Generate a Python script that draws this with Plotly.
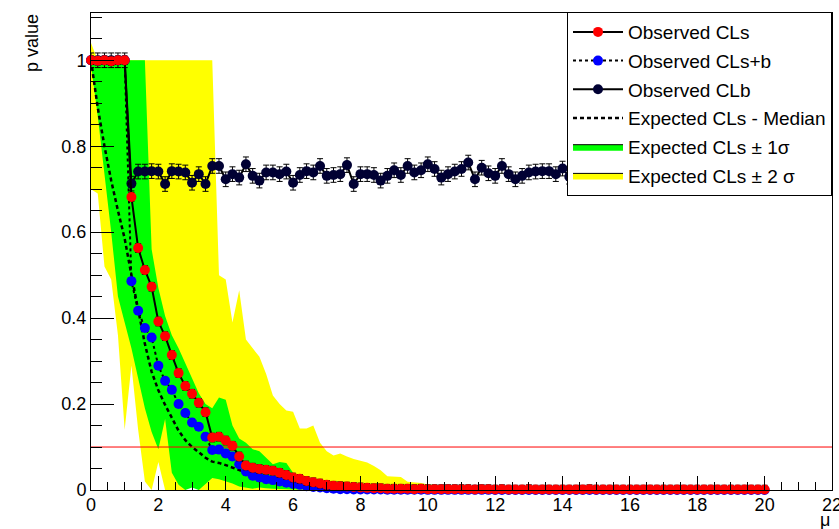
import plotly.graph_objects as go

# ---------------- data ----------------
MU = [
    0.0, 0.2, 0.4, 0.6, 0.8, 1.0, 1.2, 1.4, 1.6, 1.8,
    2.0, 2.2, 2.4, 2.6, 2.8, 3.0, 3.2, 3.4, 3.6, 3.8,
    4.0, 4.2, 4.4, 4.6, 4.8, 5.0, 5.2, 5.4, 5.6, 5.8,
    6.0, 6.2, 6.4, 6.6, 6.8, 7.0, 7.2, 7.4, 7.6, 7.8,
    8.0, 8.2, 8.4, 8.6, 8.8, 9.0, 9.2, 9.4, 9.6, 9.8,
    10.0, 10.2, 10.4, 10.6, 10.8, 11.0, 11.2, 11.4, 11.6, 11.8,
    12.0, 12.2, 12.4, 12.6, 12.8, 13.0, 13.2, 13.4, 13.6, 13.8,
    14.0, 14.2, 14.4, 14.6, 14.8, 15.0, 15.2, 15.4, 15.6, 15.8,
    16.0, 16.2, 16.4, 16.6, 16.8, 17.0, 17.2, 17.4, 17.6, 17.8,
    18.0, 18.2, 18.4, 18.6, 18.8, 19.0, 19.2, 19.4, 19.6, 19.8,
    20.0,
]

CLS = [
    1.0, 0.999, 1.0, 0.998, 1.0, 1.0, 0.682, 0.563, 0.512, 0.473,
    0.392, 0.358, 0.314, 0.272, 0.242, 0.224, 0.203, 0.181, 0.122, 0.124,
    0.115, 0.103, 0.078, 0.057, 0.052, 0.049, 0.047, 0.045, 0.040, 0.035,
    0.029, 0.026, 0.021, 0.018, 0.015, 0.012, 0.010, 0.009, 0.008, 0.007,
    0.006, 0.005, 0.004, 0.004, 0.003, 0.003, 0.003, 0.003, 0.002, 0.003,
    0.002, 0.002, 0.002, 0.002, 0.002, 0.002, 0.002, 0.001, 0.002, 0.002,
    0.001, 0.002, 0.001, 0.001, 0.001, 0.002, 0.001, 0.001, 0.001, 0.001,
    0.001, 0.001, 0.001, 0.001, 0.002, 0.001, 0.001, 0.001, 0.001, 0.001,
    0.001, 0.001, 0.001, 0.001, 0.001, 0.001, 0.001, 0.001, 0.001, 0.001,
    0.001, 0.001, 0.001, 0.001, 0.001, 0.001, 0.001, 0.001, 0.001, 0.001,
    0.001,
]

CLSB = [
    1.0, 0.999, 1.0, 0.998, 1.0, 1.0, 0.486, 0.417, 0.377, 0.355,
    0.289, 0.254, 0.233, 0.200, 0.179, 0.157, 0.147, 0.124, 0.093, 0.094,
    0.085, 0.078, 0.060, 0.043, 0.033, 0.029, 0.025, 0.023, 0.020, 0.017,
    0.014, 0.012, 0.009, 0.007, 0.006, 0.004, 0.003, 0.002, 0.002, 0.001,
    0.001, 0.001, 0.001, 0.001, 0.0005, 0.0005, 0.0005, 0.0005, 0.0005, 0.0005,
    0.0003, 0.0003, 0.0003, 0.0003, 0.0003, 0.0003, 0.0003, 0.0003, 0.0003, 0.0003,
    0.0002, 0.0002, 0.0002, 0.0002, 0.0002, 0.0002, 0.0002, 0.0002, 0.0002, 0.0002,
    0.0001, 0.0001, 0.0001, 0.0001, 0.0001, 0.0001, 0.0001, 0.0001, 0.0001, 0.0001,
    0.0001, 0.0001, 0.0001, 0.0001, 0.0001, 0.0001, 0.0001, 0.0001, 0.0001, 0.0001,
    0.0001, 0.0001, 0.0001, 0.0001, 0.0001, 0.0001, 0.0001, 0.0001, 0.0001, 0.0001,
    0.0001,
]

CLB = [
    1.0, 1.0, 1.0, 1.0, 1.0, 1.0, 0.713, 0.741, 0.741, 0.742,
    0.741, 0.712, 0.742, 0.741, 0.739, 0.715, 0.735, 0.712, 0.754, 0.754,
    0.723, 0.735, 0.727, 0.758, 0.731, 0.720, 0.739, 0.739, 0.735, 0.741,
    0.715, 0.733, 0.742, 0.739, 0.754, 0.731, 0.733, 0.735, 0.756, 0.712,
    0.735, 0.735, 0.733, 0.720, 0.731, 0.744, 0.733, 0.754, 0.739, 0.744,
    0.758, 0.747, 0.727, 0.735, 0.741, 0.747, 0.762, 0.723, 0.750, 0.737,
    0.731, 0.754, 0.735, 0.723, 0.731, 0.739, 0.741, 0.742, 0.742, 0.735,
    0.748, 0.729, 0.741, 0.752, 0.733, 0.738, 0.726, 0.745, 0.739, 0.731,
    0.750, 0.736, 0.742, 0.728, 0.712, 0.737, 0.753, 0.732, 0.740, 0.746,
    0.730, 0.738, 0.749, 0.734, 0.741, 0.727, 0.743, 0.736, 0.747, 0.733,
    0.739,
]

EXP_MED = [
    1.0, 0.89, 0.80, 0.72, 0.65, 0.585, 0.50, 0.42, 0.34, 0.275,
    0.232, 0.198, 0.166, 0.138, 0.116, 0.100, 0.088, 0.075, 0.066, 0.063,
    0.058, 0.052, 0.046, 0.040, 0.034, 0.029, 0.024, 0.020, 0.016, 0.012,
    0.009, 0.006, 0.004, 0.003, 0.002, 0.001, 0.001, 0.001, 0.001, 0.0005,
    0.0005, 0.0005, 0.0005, 0.0005, 0.0003, 0.0003, 0.0003, 0.0003, 0.0003, 0.0003,
    0.0002, 0.0002, 0.0002, 0.0002, 0.0002, 0.0002, 0.0002, 0.0002, 0.0002, 0.0002,
    0.0001, 0.0001, 0.0001, 0.0001, 0.0001, 0.0001, 0.0001, 0.0001, 0.0001, 0.0001,
    0.0001, 0.0001, 0.0001, 0.0001, 0.0001, 0.0001, 0.0001, 0.0001, 0.0001, 0.0001,
    0.0001, 0.0001, 0.0001, 0.0001, 0.0001, 0.0001, 0.0001, 0.0001, 0.0001, 0.0001,
    0.0001, 0.0001, 0.0001, 0.0001, 0.0001, 0.0001, 0.0001, 0.0001, 0.0001, 0.0001,
    0.0001,
]

# expected +-1 sigma band
G_LO = [
    0.99, 0.87, 0.74, 0.60, 0.45, 0.39, 0.33, 0.26, 0.19, 0.135,
    0.095, 0.165, 0.040, 0.012, 0.0, 0.006, 0.0, 0.015, 0.028, 0.025,
    0.020, 0.015, 0.008, 0.005, 0.003, 0.006, 0.004, 0.003, 0.002, 0.002,
    0.001, 0.001, 0.001, 0.001, 0.0, 0.0, 0.0, 0.0, 0.0, 0.0,
    0.0, 0.0, 0.0, 0.0, 0.0, 0.0, 0.0, 0.0, 0.0, 0.0,
    0.0, 0.0, 0.0, 0.0, 0.0, 0.0, 0.0, 0.0, 0.0, 0.0,
    0.0, 0.0, 0.0, 0.0, 0.0, 0.0, 0.0, 0.0, 0.0, 0.0,
    0.0, 0.0, 0.0, 0.0, 0.0, 0.0, 0.0, 0.0, 0.0, 0.0,
    0.0, 0.0, 0.0, 0.0, 0.0, 0.0, 0.0, 0.0, 0.0, 0.0,
    0.0, 0.0, 0.0, 0.0, 0.0, 0.0, 0.0, 0.0, 0.0, 0.0,
    0.0,
]
G_HI = [
    1.0, 1.0, 1.0, 1.0, 1.0, 1.0, 1.0, 1.0, 1.0, 0.56,
    0.47, 0.405, 0.36, 0.33, 0.295, 0.26, 0.225, 0.20, 0.19, 0.215,
    0.21, 0.15, 0.12, 0.11, 0.095, 0.09, 0.075, 0.06, 0.065, 0.063,
    0.040, 0.025, 0.018, 0.012, 0.008, 0.005, 0.004, 0.004, 0.003, 0.003,
    0.003, 0.002, 0.002, 0.002, 0.002, 0.002, 0.002, 0.002, 0.002, 0.002,
    0.002, 0.002, 0.002, 0.002, 0.001, 0.001, 0.001, 0.001, 0.001, 0.001,
    0.001, 0.001, 0.001, 0.001, 0.001, 0.001, 0.001, 0.001, 0.001, 0.001,
    0.001, 0.001, 0.001, 0.001, 0.001, 0.001, 0.001, 0.001, 0.001, 0.001,
    0.001, 0.001, 0.001, 0.001, 0.001, 0.001, 0.001, 0.001, 0.001, 0.001,
    0.001, 0.001, 0.001, 0.001, 0.001, 0.001, 0.001, 0.001, 0.001, 0.001,
    0.001,
]

# expected +-2 sigma band
Y_LO = [
    0.70, 0.69, 0.52, 0.49, 0.36, 0.14, 0.29, 0.14, 0.02, 0.0,
    0.065, 0.0, 0.0, 0.0, 0.0, 0.015, 0.0, 0.0, 0.0, 0.0,
    0.0, 0.0, 0.0, 0.0, 0.0, 0.0, 0.0, 0.0, 0.0, 0.0,
    0.0, 0.0, 0.0, 0.0, 0.0, 0.0, 0.0, 0.0, 0.0, 0.0,
    0.0, 0.0, 0.0, 0.0, 0.0, 0.0, 0.0, 0.0, 0.0, 0.0,
    0.0, 0.0, 0.0, 0.0, 0.0, 0.0, 0.0, 0.0, 0.0, 0.0,
    0.0, 0.0, 0.0, 0.0, 0.0, 0.0, 0.0, 0.0, 0.0, 0.0,
    0.0, 0.0, 0.0, 0.0, 0.0, 0.0, 0.0, 0.0, 0.0, 0.0,
    0.0, 0.0, 0.0, 0.0, 0.0, 0.0, 0.0, 0.0, 0.0, 0.0,
    0.0, 0.0, 0.0, 0.0, 0.0, 0.0, 0.0, 0.0, 0.0, 0.0,
    0.0,
]
Y_HI = [
    1.04, 1.0, 1.0, 1.0, 1.0, 1.0, 1.0, 1.0, 1.0, 1.0,
    1.0, 1.0, 1.0, 1.0, 1.0, 1.0, 1.0, 1.0, 1.0, 0.50,
    0.49, 0.39, 0.465, 0.35, 0.33, 0.31, 0.27, 0.22, 0.20, 0.185,
    0.182, 0.143, 0.143, 0.150, 0.110, 0.090, 0.080, 0.085, 0.078, 0.072,
    0.068, 0.064, 0.056, 0.046, 0.032, 0.031, 0.030, 0.019, 0.018, 0.016,
    0.013, 0.012, 0.011, 0.011, 0.010, 0.010, 0.010, 0.009, 0.009, 0.009,
    0.008, 0.005, 0.005, 0.005, 0.004, 0.004, 0.004, 0.004, 0.003, 0.003,
    0.003, 0.003, 0.003, 0.003, 0.003, 0.003, 0.002, 0.002, 0.002, 0.002,
    0.002, 0.002, 0.002, 0.002, 0.002, 0.002, 0.002, 0.002, 0.002, 0.002,
    0.002, 0.002, 0.002, 0.002, 0.002, 0.002, 0.002, 0.002, 0.002, 0.002,
    0.002,
]

CLS_ERR = 0.010
CLSB_ERR = 0.008
CLB_ERR = 0.017
CL_LINE = 0.1
X_RANGE = [0, 22]
Y_RANGE = [0, 1.11]
Y_TICKS = [0, 0.2, 0.4, 0.6, 0.8, 1.0]
Y_TICKTEXT = ["0", "0.2", "0.4", "0.6", "0.8", "1"]

LABELS = {
    "cls": "Observed CLs",
    "clsb": "Observed CLs+b",
    "clb": "Observed CLb",
    "med": "Expected CLs - Median",
    "g": "Expected CLs ± 1σ",
    "y": "Expected CLs ± 2 σ",
}

FONT = "Liberation Sans, Arial, Helvetica, sans-serif"
GREEN = "#00ff00"
YELLOW = "#ffff00"
NAVY = "#000033"

fig = go.Figure()


def band_xy(lo, hi):
    return MU + MU[::-1], hi + lo[::-1]


# bands (drawn, no legend)
bx, by = band_xy(Y_LO, Y_HI)
fig.add_trace(go.Scatter(x=bx, y=by, fill="toself", fillcolor=YELLOW, mode="lines",
                         line=dict(width=0, color=YELLOW), showlegend=False, hoverinfo="skip"))
bx, by = band_xy(G_LO, G_HI)
fig.add_trace(go.Scatter(x=bx, y=by, fill="toself", fillcolor=GREEN, mode="lines",
                         line=dict(width=0, color=GREEN), showlegend=False, hoverinfo="skip"))

# legend entries for the bands
fig.add_trace(go.Scatter(x=[None], y=[None], fill="toself", fillcolor=GREEN, mode="lines",
                         line=dict(width=1, color="black"), name=LABELS["g"],
                         legendrank=5, legendgroup="g"))
fig.add_trace(go.Scatter(x=[None], y=[None], fill="toself", fillcolor=YELLOW, mode="lines",
                         line=dict(width=1, color="black"), name=LABELS["y"],
                         legendrank=6, legendgroup="y"))

# expected median
fig.add_trace(go.Scatter(x=MU, y=EXP_MED, mode="lines", name=LABELS["med"],
                         line=dict(color="black", width=2.5, dash="4px,3px"),
                         legendrank=4, legendgroup="med"))

# 0.1 threshold line
fig.add_trace(go.Scatter(x=X_RANGE, y=[CL_LINE, CL_LINE], mode="lines",
                         line=dict(color="red", width=1), showlegend=False, hoverinfo="skip"))

# observed CLb
fig.add_trace(go.Scatter(x=MU, y=CLB, mode="lines+markers", name=LABELS["clb"],
                         line=dict(color="black", width=2),
                         marker=dict(color=NAVY, size=10, symbol="circle"),
                         error_y=dict(type="constant", value=CLB_ERR, color="black",
                                      thickness=1, width=3),
                         cliponaxis=False, legendrank=3, legendgroup="clb"))

# observed CLs+b
fig.add_trace(go.Scatter(x=MU, y=CLSB, mode="lines+markers", name=LABELS["clsb"],
                         line=dict(color="black", width=2, dash="dot"),
                         marker=dict(color="blue", size=10, symbol="circle"),
                         error_y=dict(type="constant", value=CLSB_ERR, color="black",
                                      thickness=1, width=3),
                         cliponaxis=False, legendrank=2, legendgroup="clsb"))

# observed CLs
fig.add_trace(go.Scatter(x=MU, y=CLS, mode="lines+markers", name=LABELS["cls"],
                         line=dict(color="black", width=2),
                         marker=dict(color="red", size=10, symbol="circle"),
                         error_y=dict(type="constant", value=CLS_ERR, color="black",
                                      thickness=1, width=3),
                         cliponaxis=False, legendrank=1, legendgroup="cls"))

axis_common = dict(
    showgrid=False, zeroline=False, showline=True, mirror=True, automargin=False,
    linecolor="black", linewidth=1, ticks="inside", tickcolor="black", tickwidth=1,
    tickfont=dict(family=FONT, size=18, color="black"),
)

fig.update_layout(
    width=839, height=529,
    margin=dict(l=91, r=7, t=13, b=39),
    paper_bgcolor="white", plot_bgcolor="white",
    font=dict(family=FONT, size=18, color="black"),
    xaxis=dict(range=X_RANGE, tickmode="linear", tick0=0, dtick=2, ticklen=14,
               ticklabelstandoff=-2, ticklabeloverflow="allow",
               minor=dict(dtick=0.5, ticklen=8, ticks="inside", tickcolor="black", tickwidth=1),
               **axis_common),
    yaxis=dict(range=Y_RANGE, tickmode="array", tickvals=Y_TICKS, ticktext=Y_TICKTEXT,
               ticklen=23,
               minor=dict(dtick=0.05, tick0=0, ticklen=11, ticks="inside",
                          tickcolor="black", tickwidth=1),
               **axis_common),
    legend=dict(x=1.0, xanchor="right", y=1.002, yanchor="top",
                bgcolor="white", bordercolor="black", borderwidth=1,
                font=dict(family=FONT, size=19, color="black"),
                itemwidth=50, tracegroupgap=1, traceorder="grouped"),
    annotations=[
        dict(text="p value", xref="paper", yref="paper", x=-0.0796, y=1.002,
             xanchor="center", yanchor="top", textangle=-90, showarrow=False,
             font=dict(family=FONT, size=18, color="black")),
        dict(text="μ", xref="paper", yref="paper", x=1.0, y=-0.038,
             xanchor="right", yanchor="top", showarrow=False,
             font=dict(family=FONT, size=18, color="black")),
    ],
)

fig.write_html("out.html")
